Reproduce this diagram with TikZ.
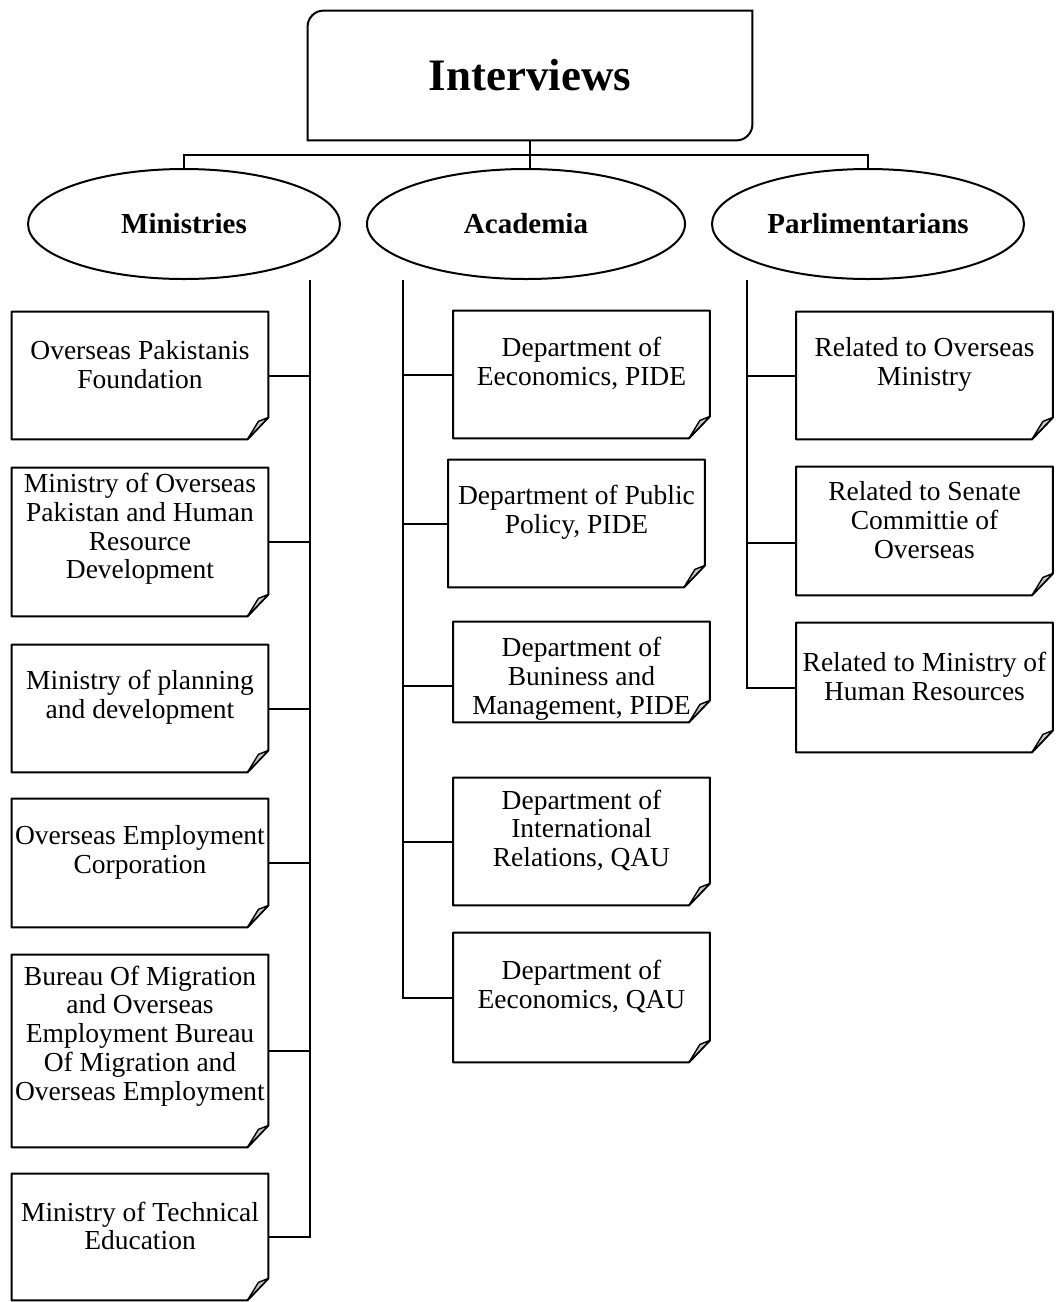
\documentclass[tikz,border=0pt]{standalone}
\usepackage{fontspec}
\setmainfont{Liberation Serif}
\usetikzlibrary{shapes.geometric}
\tikzset{
  line/.style={line width=1pt},
  note/.style={rectangle, minimum width=128pt, inner sep=0pt, draw=none},
  txt/.style={align=center, font=\fontsize{13.75}{14.4}\selectfont, inner sep=0pt},
  head/.style={ellipse, draw, line width=1pt, minimum width=156pt, minimum height=55pt, inner sep=0pt, font=\fontsize{14.5}{16}\selectfont\bfseries},
  flap/.style={line width=0.7pt, fill=black!22, line join=round},
}
% name, cx, cy, height(px), text shift up (px), text
\newcommand\notebox[6]{%
  \node[note, minimum height=#4*0.5pt] (#1) at (#2,#3) {};
  \draw[line, fill=white, line join=round] (#1.north west) -- (#1.north east) -- ([yshift=11pt]#1.south east) -- ([xshift=-10.5pt]#1.south east) -- (#1.south west) -- cycle;
  \filldraw[flap] ([yshift=11pt]#1.south east) -- ([xshift=-5pt,yshift=9pt]#1.south east) -- ([xshift=-10.5pt]#1.south east) -- cycle;
  \node[txt] (#1t) at ([yshift=#5*0.5pt]#1.center) {#6};
}
\begin{document}
\begin{tikzpicture}[x=0.5pt,y=-0.5pt]
\useasboundingbox (0,0) rectangle (1058,1302);

% top box
\node[font=\fontsize{22.5}{26}\selectfont\bfseries, minimum width=222pt, minimum height=64.5pt, inner sep=0pt] (top) at (530,75.5) {\raisebox{-1pt}{Interviews}};
\draw[line] (top.south west) -- ([yshift=-8pt]top.north west) arc[start angle=180,end angle=90,radius=8pt] -- (top.north east) -- ([yshift=8pt]top.south east) arc[start angle=0,end angle=-90,radius=8pt] -- cycle;

% categories
\node[head] (mi) at (184,224) {Ministries};
\node[head, minimum width=159pt] (ac) at (526,224) {Academia};
\node[head] (pa) at (868,224) {Parlimentarians};

\coordinate (bus) at (530,155);
\draw[line] (mi.north) -- (mi.north |- bus) -- (pa.north |- bus) -- (pa.north);
\draw[line] (top.south) -- ([yshift=-0.5pt]top.south |- ac.north);

% Ministries
\notebox{m1}{140}{375.5}{127}{11}{Overseas Pakistanis\\Foundation}
\notebox{m2}{140}{542}{148}{13}{Ministry of Overseas\\Pakistan and Human\\Resource\\Development}
\notebox{m3}{140}{708.5}{127}{11}{Ministry of planning\\and development}
\notebox{m4}{140}{863}{128}{11}{Overseas Employment\\Corporation}
\notebox{m5}{140}{1051}{192}{15}{Bureau Of Migration\\and Overseas\\Employment Bureau\\Of Migration and\\Overseas Employment}
\notebox{m6}{140}{1237}{126}{11}{Ministry of Technical\\Education}

\coordinate (ms) at (310,280);
\draw[line] (ms) |- (m6.east);
\foreach \b in {m1,m2,m3,m4,m5} \draw[line] (\b.east) -- (\b.east -| ms);

% Academia
\notebox{a1}{581.5}{374.5}{127}{11}{Department of\\Eeconomics, PIDE}
\notebox{a2}{576.5}{523.5}{127}{11}{Department of Public\\Policy, PIDE}
\notebox{a3}{581.5}{672}{100}{-7}{Department of\\Buniness and\\Management, PIDE}
\notebox{a4}{581.5}{841.5}{127}{11}{Department of\\International\\Relations, QAU}
\notebox{a5}{581.5}{997.5}{129}{11}{Department of\\Eeconomics, QAU}

\coordinate (as) at (403,280);
\draw[line] (as) |- (a5.west);
\foreach \b in {a1,a2,a4} \draw[line] (\b.west) -- (\b.west -| as);
\draw[line] ([yshift=-7pt]a3.west) -- ([yshift=-7pt]a3.west -| as);

% Parlimentarians
\notebox{p1}{924.5}{375.5}{127}{11}{Related to Overseas\\Ministry}
\notebox{p2}{924.5}{531}{128}{11}{Related to Senate\\Committie of\\Overseas}
\notebox{p3}{924.5}{687.5}{129}{11}{Related to Ministry of\\Human Resources}

\coordinate (ps) at (747,280);
\draw[line] (ps) |- (p3.west);
\draw[line] (p1.west) -- (p1.west -| ps);
\draw[line] ([yshift=-6pt]p2.west) -- ([yshift=-6pt]p2.west -| ps);
\end{tikzpicture}
\end{document}
